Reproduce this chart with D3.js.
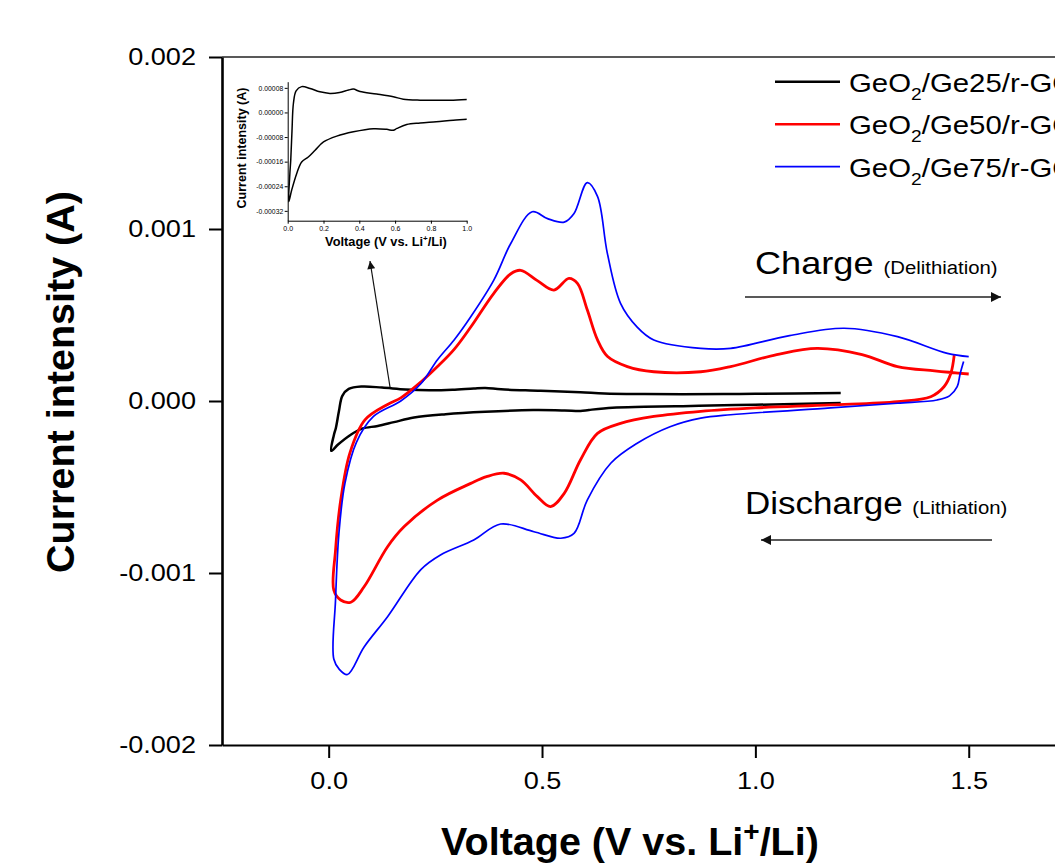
<!DOCTYPE html>
<html>
<head>
  <meta charset="utf-8">
  <style>
    body { margin: 0; background: #fff; }
    svg { display: block; font-family: 'Liberation Sans', Arial, sans-serif; }
    .tick text { fill: #000; }
  </style>
</head>
<body>
  <div id="chart"></div>
  <script src="https://cdn.jsdelivr.net/npm/d3@7"></script>
  <script>
    // CV curves, listed in scan order: [voltage (V), current (A)]
    var ge25 = [
      [1.2, -0.000012], [1.0, -0.000022], [0.925, -0.000025], [0.83, -0.00003], [0.74, -0.000034],
      [0.665, -0.000039], [0.61, -0.000052], [0.59, -0.000058], [0.553, -0.000055], [0.479, -0.000053],
      [0.367, -0.000063], [0.274, -0.000077], [0.2, -0.000096], [0.153, -0.000123], [0.115, -0.000145],
      [0.078, -0.000161], [0.05, -0.000199], [0.022, -0.000253], [0.006, -0.00029],
      [0.012, -0.0002], [0.017, -0.000155], [0.024, -0.00006], [0.032, 0.00003], [0.047, 0.00007],
      [0.078, 0.000084], [0.125, 0.000078], [0.18, 0.000067], [0.236, 0.000062], [0.29, 0.000065],
      [0.34, 0.000073], [0.367, 0.000076], [0.404, 0.000068], [0.497, 0.00006], [0.59, 0.000051],
      [0.646, 0.000043], [0.74, 0.00004], [0.925, 0.00004], [1.0, 0.000042], [1.2, 0.000047]
    ];

    var ge50 = [
      [1.466, 0.000267], [1.458, 0.00016], [1.442, 0.000083], [1.411, 0.000025], [1.333, -0.000004],
      [1.176, -0.000023], [1.0, -0.00004], [0.872, -0.00006], [0.762, -0.00009], [0.684, -0.00013],
      [0.63, -0.000188], [0.59, -0.000343], [0.552, -0.000537], [0.52, -0.000614], [0.489, -0.000556],
      [0.45, -0.000459], [0.411, -0.00042], [0.37, -0.00044], [0.333, -0.000479], [0.255, -0.000576],
      [0.177, -0.00073], [0.138, -0.000847], [0.083, -0.00108], [0.052, -0.00117], [0.028, -0.001157],
      [0.012, -0.0011],
      [0.016, -0.00087], [0.028, -0.00058], [0.05, -0.0003], [0.085, -0.00011], [0.138, -0.00002],
      [0.17, 0.00002], [0.216, 0.00011], [0.255, 0.0002], [0.294, 0.0003], [0.333, 0.00043],
      [0.387, 0.000626], [0.427, 0.00074], [0.45, 0.00076], [0.489, 0.0007], [0.528, 0.000645],
      [0.563, 0.000713], [0.583, 0.000684], [0.606, 0.00053], [0.63, 0.000355], [0.653, 0.00026],
      [0.7, 0.0002], [0.762, 0.00017], [0.872, 0.00017], [0.942, 0.0002], [1.05, 0.00027],
      [1.145, 0.000306], [1.25, 0.00027], [1.333, 0.0002], [1.42, 0.000175], [1.5, 0.000157]
    ];

    var ge75 = [
      [1.488, 0.00023], [1.48, 0.00016], [1.473, 0.000083], [1.455, 0.00003], [1.426, 0.000006],
      [1.333, -0.000013], [1.176, -0.00004], [0.942, -0.00008], [0.872, -0.0001], [0.8, -0.00015],
      [0.723, -0.000246], [0.661, -0.000362], [0.606, -0.000576], [0.575, -0.00077], [0.544, -0.000798],
      [0.481, -0.00076], [0.403, -0.000715], [0.34, -0.000808], [0.262, -0.000895], [0.216, -0.00098],
      [0.138, -0.001254], [0.083, -0.00143], [0.044, -0.00159], [0.025, -0.00156], [0.012, -0.0015],
      [0.016, -0.00116], [0.024, -0.00077], [0.038, -0.00048], [0.065, -0.00024], [0.105, -0.00009],
      [0.169, 0.0], [0.216, 0.0001], [0.255, 0.00024], [0.294, 0.000355], [0.333, 0.00049],
      [0.387, 0.000703], [0.427, 0.000917], [0.477, 0.0011], [0.513, 0.00106], [0.552, 0.00104],
      [0.575, 0.00109], [0.606, 0.00127], [0.63, 0.00119], [0.653, 0.00086], [0.684, 0.000568],
      [0.723, 0.00043], [0.762, 0.000355], [0.872, 0.000306], [0.942, 0.000306], [1.08, 0.00038],
      [1.208, 0.000423], [1.333, 0.000374], [1.45, 0.000277], [1.5, 0.000258]
    ];

    var seriesNames = ['25', '50', '75'];
    var seriesColors = ['#000000', '#ff0000', '#0000ff'];
    var seriesWidths = [2.5, 2.8, 1.7];

    var xTicks = [0, 0.5, 1.0, 1.5];
    var xMinor = [-0.25, 0.25, 0.75, 1.25, 1.75];
    var yTicks = [-0.002, -0.001, 0, 0.001, 0.002];
    var yMinor = [-0.0015, -0.0005, 0.0005, 0.0015];

    var insetXTicks = [0, 0.2, 0.4, 0.6, 0.8, 1.0];
    var insetXMinor = [0.1, 0.3, 0.5, 0.7, 0.9];
    var insetYTicks = [-0.00032, -0.00024, -0.00016, -0.00008, 0, 0.00008];
    var insetYMinor = [-0.00028, -0.0002, -0.00012, -0.00004, 0.00004];

    var width = 1055, height = 864;
    var widen = 1.13; // the figure's regular text is a little wider than Arial

    // keep the text anchor in place while widening the glyphs
    function stretch(sel) {
      sel.each(function() {
        var t = d3.select(this);
        var tx = +t.attr('x') || 0;
        t.attr('transform', 'translate(' + (tx * (1 - widen)) + ',0) scale(' + widen + ',1)');
      });
    }

    function plainFormat(f) {
      var fmt = d3.format(f);
      return function(d) { return fmt(d).replace('\u2212', '-'); };
    }

    var svg = d3.select('#chart').append('svg')
      .attr('width', width)
      .attr('height', height);

    var defs = svg.append('defs');
    defs.append('marker')
      .attr('id', 'head')
      .attr('viewBox', '0 0 10 10')
      .attr('refX', 10).attr('refY', 5)
      .attr('markerWidth', 11).attr('markerHeight', 8)
      .attr('markerUnits', 'userSpaceOnUse')
      .attr('orient', 'auto')
      .append('path').attr('d', 'M0,0 L10,5 L0,10 Z').attr('fill', '#111');
    defs.append('marker')
      .attr('id', 'headBig')
      .attr('viewBox', '0 0 10 10')
      .attr('refX', 10).attr('refY', 5)
      .attr('markerWidth', 17).attr('markerHeight', 10)
      .attr('markerUnits', 'userSpaceOnUse')
      .attr('orient', 'auto')
      .append('path').attr('d', 'M0,0 L10,5 L0,10 Z').attr('fill', '#111');

    // main scales
    var x = d3.scaleLinear().domain([-0.25, 1.75]).range([222, 1075.4]);
    var y = d3.scaleLinear().domain([-0.002, 0.002]).range([745, 57]);

    var line = d3.line()
      .x(function(d) { return x(d[0]); })
      .y(function(d) { return y(d[1]); })
      .curve(d3.curveCatmullRom.alpha(0.5));

    // top frame
    svg.append('line')
      .attr('x1', 222).attr('x2', width)
      .attr('y1', 57).attr('y2', 57)
      .attr('stroke', '#222').attr('stroke-width', 1.3);

    // curves
    [ge25, ge50, ge75].forEach(function(s, i) {
      svg.append('path')
        .datum(s)
        .attr('d', line)
        .attr('fill', 'none')
        .attr('stroke', seriesColors[i])
        .attr('stroke-width', seriesWidths[i])
        .attr('stroke-linejoin', 'round');
    });

    // axes
    var gx = svg.append('g').attr('transform', 'translate(0,745)');
    gx.call(d3.axisBottom(x).tickValues(xMinor).tickSize(7).tickFormat('').tickSizeOuter(0));
    gx.call(d3.axisBottom(x).tickValues(xTicks).tickSize(13).tickPadding(14)
      .tickFormat(plainFormat('.1f')).tickSizeOuter(0));
    gx.selectAll('.domain').attr('stroke-width', 2);
    gx.selectAll('.tick line').attr('stroke-width', 2);
    gx.selectAll('.tick text').attr('font-size', 24).attr('font-family', null).call(stretch);

    var gy = svg.append('g').attr('transform', 'translate(222,0)');
    gy.call(d3.axisLeft(y).tickValues(yMinor).tickSize(7).tickFormat('').tickSizeOuter(0));
    gy.call(d3.axisLeft(y).tickValues(yTicks).tickSize(13).tickPadding(13)
      .tickFormat(plainFormat('.3f')).tickSizeOuter(0));
    gy.selectAll('.domain').attr('stroke-width', 2.6);
    gy.selectAll('.tick line').attr('stroke-width', 2);
    gy.selectAll('.tick text').attr('font-size', 24).attr('font-family', null).call(stretch);

    // axis titles
    var xt = svg.append('text')
      .attr('x', 630).attr('y', 855)
      .attr('text-anchor', 'middle')
      .attr('font-size', 39.5).attr('font-weight', 'bold');
    xt.append('tspan').text('Voltage (V vs. Li');
    xt.append('tspan').attr('dy', -14).attr('font-size', 28).text('+');
    xt.append('tspan').attr('dy', 14).text('/Li)');

    svg.append('text')
      .attr('transform', 'translate(74,382) rotate(-90)')
      .attr('text-anchor', 'middle')
      .attr('font-size', 39.5).attr('font-weight', 'bold')
      .text('Current intensity (A)');

    // legend
    var legend = svg.append('g');
    seriesNames.forEach(function(name, i) {
      var ly = 81.7 + i * 42.5;
      legend.append('line')
        .attr('x1', 775).attr('x2', 840)
        .attr('y1', ly).attr('y2', ly)
        .attr('stroke', seriesColors[i])
        .attr('stroke-width', i == 2 ? 1.7 : 2.5);
      var t = legend.append('text')
        .attr('x', 849).attr('y', ly + 10)
        .attr('font-size', 26);
      t.append('tspan').text('GeO');
      t.append('tspan').attr('dy', 8).attr('font-size', 17).text('2');
      t.append('tspan').attr('dy', -8).text('/Ge' + name + '/r-GO');
      t.call(stretch);
    });

    // charge / discharge annotations
    var ch = svg.append('text').attr('x', 755).attr('y', 274).attr('font-size', 32);
    ch.append('tspan').text('Charge ');
    ch.append('tspan').attr('font-size', 18).text('(Delithiation)');
    ch.call(stretch);
    svg.append('line')
      .attr('x1', 745).attr('y1', 297).attr('x2', 1001).attr('y2', 297)
      .attr('stroke', '#222').attr('stroke-width', 1.3)
      .attr('marker-end', 'url(#headBig)');

    var dc = svg.append('text').attr('x', 745).attr('y', 514).attr('font-size', 31);
    dc.append('tspan').text('Discharge ');
    dc.append('tspan').attr('font-size', 18).text('(Lithiation)');
    dc.call(stretch);
    svg.append('line')
      .attr('x1', 992).attr('y1', 540).attr('x2', 761).attr('y2', 540)
      .attr('stroke', '#222').attr('stroke-width', 1.3)
      .attr('marker-end', 'url(#headBig)');

    // pointer from the black curve to the inset
    svg.append('line')
      .attr('x1', 390).attr('y1', 387).attr('x2', 370).attr('y2', 261)
      .attr('stroke', '#111').attr('stroke-width', 1.2)
      .attr('marker-end', 'url(#head)');

    // inset (zoom on GeO2/Ge25/r-GO)
    var ix = d3.scaleLinear().domain([0, 1]).range([287.7, 466.7]);
    var iy = d3.scaleLinear().domain([-0.000352, 0.0001]).range([220.7, 81.7]);

    defs.append('clipPath').attr('id', 'insetClip')
      .append('rect')
      .attr('x', 287.7).attr('y', 75)
      .attr('width', 179).attr('height', 150);

    var iline = d3.line()
      .x(function(d) { return ix(d[0]); })
      .y(function(d) { return iy(d[1]); })
      .curve(d3.curveCatmullRom.alpha(0.5));

    svg.append('path')
      .datum(ge25)
      .attr('clip-path', 'url(#insetClip)')
      .attr('d', iline)
      .attr('fill', 'none')
      .attr('stroke', '#000')
      .attr('stroke-width', 1.5);

    var igx = svg.append('g').attr('transform', 'translate(0,220.7)');
    igx.call(d3.axisBottom(ix).tickValues(insetXMinor).tickSize(1.5).tickFormat('').tickSizeOuter(0));
    igx.call(d3.axisBottom(ix).tickValues(insetXTicks).tickSize(3).tickPadding(2)
      .tickFormat(plainFormat('.1f')).tickSizeOuter(0));
    igx.selectAll('.tick text').attr('font-size', 7).attr('font-family', null).attr('fill', '#222');

    var igy = svg.append('g').attr('transform', 'translate(287.7,0)');
    igy.call(d3.axisLeft(iy).tickValues(insetYMinor).tickSize(1.5).tickFormat('').tickSizeOuter(0));
    igy.call(d3.axisLeft(iy).tickValues(insetYTicks).tickSize(3).tickPadding(1.5)
      .tickFormat(plainFormat('.5f')).tickSizeOuter(0));
    igy.selectAll('.tick text').attr('font-size', 6.8).attr('font-family', null).attr('fill', '#222');

    var ixt = svg.append('text')
      .attr('x', 386).attr('y', 245.5)
      .attr('text-anchor', 'middle')
      .attr('font-size', 12.8).attr('font-weight', 'bold');
    ixt.append('tspan').text('Voltage (V vs. Li');
    ixt.append('tspan').attr('dy', -4.5).attr('font-size', 8).text('+');
    ixt.append('tspan').attr('dy', 4.5).text('/Li)');

    svg.append('text')
      .attr('transform', 'translate(246,148) rotate(-90)')
      .attr('text-anchor', 'middle')
      .attr('font-size', 12.5).attr('font-weight', 'bold')
      .text('Current intensity (A)');
  </script>
</body>
</html>
